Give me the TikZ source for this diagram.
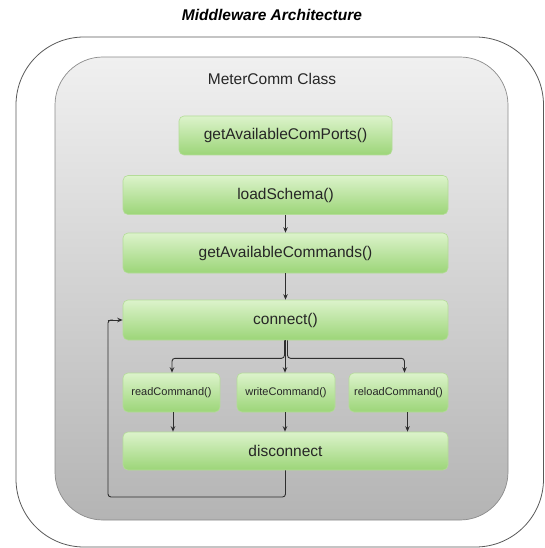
\documentclass[tikz,border=0pt]{standalone}
\usepackage{fontspec}
\setmainfont{Liberation Sans}
\usetikzlibrary{arrows.meta}
\definecolor{gtop}{HTML}{DCF3CB}
\definecolor{gbot}{HTML}{9CD578}
\definecolor{gedge}{HTML}{B4DC98}
\definecolor{graytop}{HTML}{F0F0F0}
\definecolor{graybot}{HTML}{B4B4B4}
\definecolor{lineclr}{HTML}{2E2E2E}
\tikzset{
  x=1pt, y=-1pt,
  bigbox/.style={draw=gedge, line width=0.6pt, rounded corners=5pt, top color=gtop, bottom color=gbot,
    minimum width=325pt, minimum height=39pt, inner sep=0pt, font=\fontsize{15.5}{18}\selectfont, text=black!85},
  smallbox/.style={bigbox, minimum width=98pt, font=\fontsize{11}{13}\selectfont},
  arr/.style={draw=lineclr, line width=0.9pt, -{Stealth[length=5.5pt,width=4.5pt]}},
  loopline/.style={draw=lineclr, line width=0.9pt, rounded corners=3pt}
}
\begin{document}
\begin{tikzpicture}
\useasboundingbox (0,0) rectangle (545,548);
% title
\node[font=\fontsize{15.5}{18}\selectfont\bfseries\itshape] (title) at (272,15) {Middleware Architecture};
% outer frame
\draw[draw=black!65, line width=0.8pt, fill=white, rounded corners=68pt] (16,37) rectangle (543.5,547);
% inner class frame
\draw[draw=black!45, line width=0.7pt, top color=graytop, bottom color=graybot, rounded corners=48pt] (55,57) rectangle (508,520);
\node[font=\fontsize{15.5}{18}\selectfont, text=black!85] (cls) at (272,79) {MeterComm Class};
% boxes
\node[bigbox, minimum width=213pt] (ports) at (285.5,135.5) {getAvailableComPorts()};
\node[bigbox] (load) at (285.5,195) {loadSchema()};
\node[bigbox, minimum height=40pt] (cmds) at (285.5,253) {getAvailableCommands()};
\node[bigbox, minimum height=40pt] (conn) at (285.5,320) {connect()};
\node[smallbox, minimum width=97pt] (read) at (171.5,392.5) {readCommand()};
\node[smallbox] (write) at (286,392.5) {writeCommand()};
\node[smallbox, minimum width=99pt] (reload) at (398.5,392.5) {reloadCommand()};
\node[bigbox, minimum height=38pt] (disc) at (285.5,451) {disconnect};
% arrows
\draw[arr] (load.south) -- (cmds.north);
\draw[arr] (cmds.south) -- (conn.north);
\draw[arr] ([xshift=-0.5pt]conn.south) -- ([xshift=-1pt]write.north);
\draw[arr, rounded corners=3pt] ([xshift=-1pt]conn.south) -- ++(0,18) -| ([xshift=0.5pt]read.north);
\draw[arr, rounded corners=3pt] ([xshift=2pt]conn.south) -- ++(0,18) -| ([xshift=6pt]reload.north);
\draw[arr] ([xshift=1.5pt]read.south) -- ([xshift=1.5pt]read.south |- disc.north);
\draw[arr] ([xshift=-1pt]write.south) -- ([xshift=-1pt]write.south |- disc.north);
\draw[arr] ([xshift=9pt]reload.south) -- ([xshift=9pt]reload.south |- disc.north);
% loop back
\coordinate (lb) at (108,497);
\draw[loopline] (disc.south) -- (disc.south |- lb) -- (lb) -- (lb |- conn.west) -- ++(5,0);
\draw[arr] ([xshift=-15pt]conn.west) -- (conn.west);
\end{tikzpicture}
\end{document}
